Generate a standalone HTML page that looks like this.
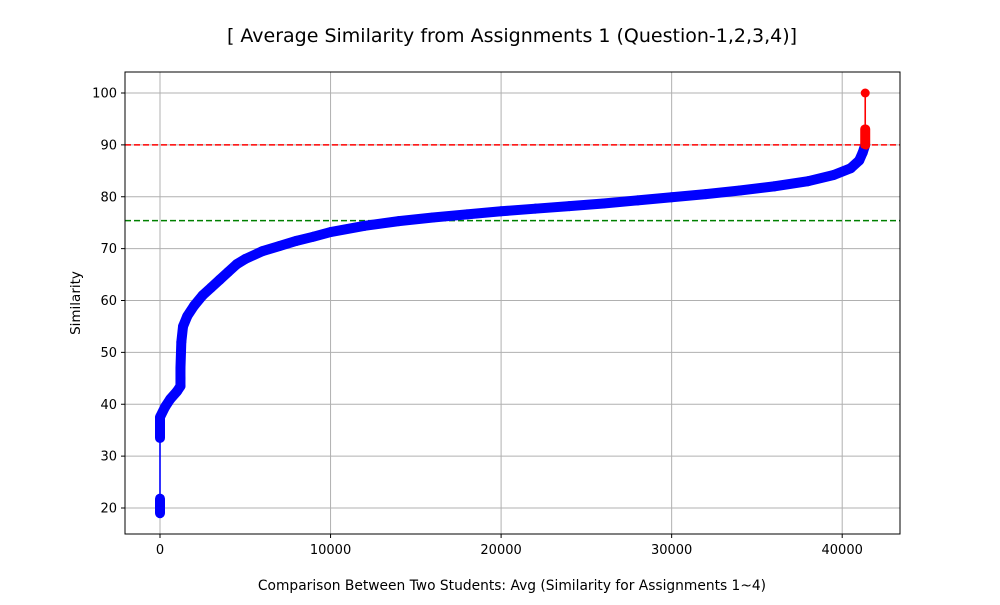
<!DOCTYPE html>
<html><head><meta charset="utf-8"><style>
body{margin:0;background:#fff;font-family:"Liberation Sans","DejaVu Sans",sans-serif}
svg text{font-family:"DejaVu Sans","Liberation Sans",sans-serif}
</style></head><body>
<svg id="c" width="1000" height="600" viewBox="0 0 1000 600" xmlns="http://www.w3.org/2000/svg">
<text x="512" y="42" text-anchor="middle" font-size="19">[ Average Similarity from Assignments 1 (Question-1,2,3,4)]</text>
<g id="grid"></g><g id="marks"></g>
<rect x="125" y="72" width="775" height="462" fill="none" stroke="#000" stroke-width="1"/>
<g id="ticks"></g>
<text x="512" y="590" text-anchor="middle" font-size="13.8">Comparison Between Two Students: Avg (Similarity for Assignments 1~4)</text>
<text transform="translate(80,303) rotate(-90)" text-anchor="middle" font-size="13.5">Similarity</text>
</svg>
<script>
const xTicks=[0,10000,20000,30000,40000];
const yTicks=[20,30,40,50,60,70,80,90,100];
const idx=[0,0,0,0,300,600,1000,1200,1200,1200,1250,1350,1600,2000,2500,3000,3500,4000,4500,5000,6000,7000,8000,9000,10000,12000,14000,16000,18000,20000,22000,24000,26000,28000,30000,32000,34000,36000,38000,39500,40500,41000,41200,41350,41350,41350];
const sim=[19,21.8,33.5,37.5,39.5,41,42.5,43.5,45,47,52,55,57,59,61,62.5,64,65.5,67,68,69.5,70.5,71.5,72.3,73.2,74.4,75.3,76,76.6,77.2,77.7,78.2,78.7,79.3,79.9,80.5,81.2,82,83,84.2,85.5,87,88.5,90,93,100];
const greenThreshold=75.4, redThreshold=90;
const X=v=>160+v*0.017055, Y=v=>508-(v-20)*5.1875;
const NS="http://www.w3.org/2000/svg";
function mk(p,t,a){const e=document.createElementNS(NS,t);for(const k in a)e.setAttribute(k,a[k]);p.appendChild(e);return e;}
const grid=document.getElementById('grid'),ticks=document.getElementById('ticks'),marks=document.getElementById('marks');
xTicks.forEach(t=>{const x=X(t);
const g=mk(grid,'line',{x1:x,x2:x,y1:72,y2:534,stroke:'#b0b0b0','stroke-width':1});

mk(ticks,'line',{x1:x,x2:x,y1:534,y2:538,stroke:'#000'});
const l=mk(ticks,'text',{x:x,y:554,'text-anchor':'middle','font-size':13});l.textContent=t;
});
yTicks.forEach(t=>{const y=Y(t);
const g=mk(grid,'line',{x1:125,x2:900,y1:y,y2:y,stroke:'#b0b0b0','stroke-width':1});

mk(ticks,'line',{x1:121,x2:125,y1:y,y2:y,stroke:'#000'});
const l=mk(ticks,'text',{x:117,y:y+4.5,'text-anchor':'end','font-size':13});l.textContent=t;
});
const gl=mk(marks,'line',{x1:125,x2:900,y1:Y(greenThreshold),y2:Y(greenThreshold),stroke:'green','stroke-width':1.6,'stroke-dasharray':'6,3'});

for(let i=1;i<idx.length;i++){
 const col=sim[i-1]>=redThreshold?'red':'blue';
 const gap=Math.abs(sim[i]-sim[i-1])>5;
 const s=mk(marks,'line',{x1:X(idx[i-1]),y1:Y(sim[i-1]),x2:X(idx[i]),y2:Y(sim[i]),stroke:col,'stroke-width':gap?1.6:10,'stroke-linecap':'round'});
 }
for(let i=0;i<idx.length;i++){
 const c=mk(marks,'circle',{cx:X(idx[i]),cy:Y(sim[i]),r:4.5,fill:sim[i]>=redThreshold?'red':'blue'});
 }
const rl=mk(marks,'line',{x1:125,x2:900,y1:Y(redThreshold),y2:Y(redThreshold),stroke:'red','stroke-width':1.6,'stroke-dasharray':'6,3'});

</script>
</body></html>
